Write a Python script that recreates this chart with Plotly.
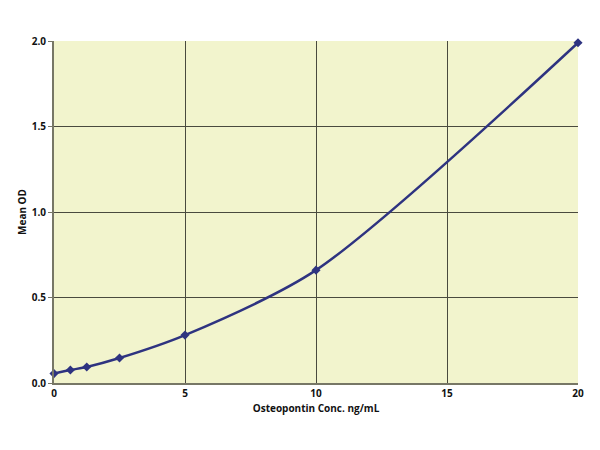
import plotly.graph_objects as go

conc = [0, 0.625, 1.25, 2.5, 5, 10, 20]
mean_od = [0.055, 0.076, 0.094, 0.146, 0.28, 0.66, 1.99]
x_ticks = [0, 5, 10, 15, 20]
y_ticks = [0.0, 0.5, 1.0, 1.5, 2.0]
y_tick_text = ["0.0", "0.5", "1.0", "1.5", "2.0"]

fig = go.Figure()
fig.add_trace(go.Scatter(
    x=conc, y=mean_od, mode="lines+markers",
    line=dict(color="#2e3380", width=2.5, shape="spline", smoothing=0.8),
    marker=dict(symbol="diamond", size=7, color="#2e3380"),
    showlegend=False, cliponaxis=False,
))

font = dict(family="Open Sans, Lato, Arial", size=10, color="#111", weight=700)
fig.update_layout(
    width=600, height=450,
    margin=dict(l=46, r=30, t=33, b=75),
    paper_bgcolor="white", plot_bgcolor="#f2f4cd",
    font=font,
    xaxis=dict(range=[0, 20], tickvals=x_ticks, ticktext=[str(v) for v in x_ticks],
               showgrid=True, gridcolor="#4a4a3e", gridwidth=1,
               showline=True, linecolor="#777766", linewidth=2, mirror=False,
               ticks="", zeroline=False, automargin=False,
               title=dict(text="Osteopontin Conc. ng/mL", standoff=6, font=font)),
    yaxis=dict(range=[0, 2.0], tickvals=y_ticks, ticktext=y_tick_text,
               showgrid=True, gridcolor="#4a4a3e", gridwidth=1,
               showline=True, linecolor="#777766", linewidth=2,
               ticks="outside", ticklen=4, tickcolor="#777766",
               zeroline=False, automargin=False,
               title=dict(text="Mean OD", standoff=3, font=font)),
)
fig.write_html("out.html")
